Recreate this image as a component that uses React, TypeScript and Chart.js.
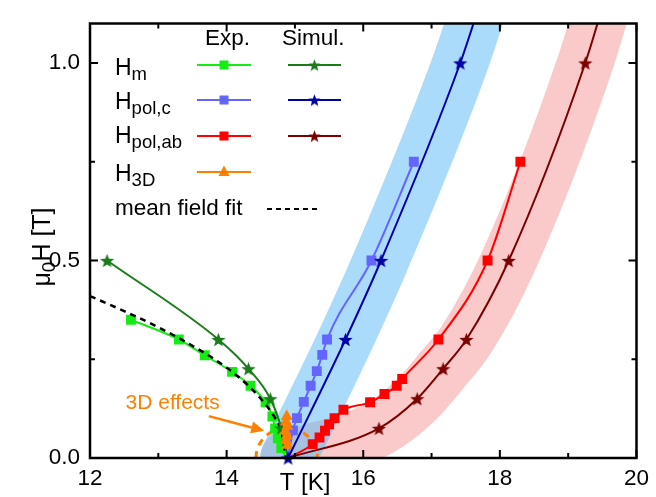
import React, { useEffect, useRef } from 'react';
import { Chart, registerables } from 'chart.js';

Chart.register(...registerables);

const FONT = '"Liberation Sans", Arial, Helvetica, sans-serif';

// ---- axes ----
const X_MIN = 12;
const X_MAX = 20;
const Y_MIN = 0;
const Y_MAX = 1.1;
const X_MAJOR = [12, 14, 16, 18, 20];
const X_LABELS = ['12', '14', '16', '18', '20'];
const X_MINOR = [13, 15, 17, 19];
const Y_MAJOR = [0, 0.5, 1.0];
const Y_LABELS = ['0.0', '0.5', '1.0'];
const Y_MINOR = [0.25, 0.75];

// ---- H_m ----
const HM_EXP_T = [12.6, 13.3, 13.68, 14.08, 14.35, 14.57, 14.67, 14.71, 14.75, 14.8, 14.87];
const HM_EXP_H = [0.35, 0.3, 0.26, 0.218, 0.183, 0.141, 0.105, 0.075, 0.05, 0.025, 0];
const HM_SIM_T = [12.25, 13.88, 14.32, 14.64, 14.8, 14.9];
const HM_SIM_H = [0.5, 0.3, 0.226, 0.15, 0.076, 0];
// mean field fit
const MF_T = [12.0, 12.5, 13.0, 13.5, 14.0, 14.3, 14.5, 14.7, 14.8, 14.87];
const MF_H = [0.41, 0.372, 0.331, 0.284, 0.229, 0.186, 0.15, 0.104, 0.068, 0];
// ---- H_pol,c ----
const PC_EXP_T = [14.9, 14.97, 15.03, 15.13, 15.23, 15.32, 15.4, 15.47, 16.12, 16.74];
const PC_EXP_H = [0, 0.07, 0.101, 0.142, 0.183, 0.22, 0.261, 0.3, 0.5, 0.75];
const PC_SIM_T = [14.9, 15.74, 16.26, 17.42, 17.8];
const PC_SIM_H = [0, 0.3, 0.5, 1.0, 1.2];
// ---- H_pol,ab ----
const PAB_EXP_T = [14.9, 15.26, 15.36, 15.44, 15.5, 15.58, 15.71, 16.1, 16.31, 16.49, 16.57, 17.1, 17.82, 18.3];
const PAB_EXP_H = [0, 0.035, 0.052, 0.069, 0.085, 0.101, 0.122, 0.141, 0.162, 0.183, 0.2, 0.3, 0.5, 0.75];
const PAB_SIM_T = [14.9, 16.23, 16.79, 17.17, 17.51, 18.13, 19.25, 19.6];
const PAB_SIM_H = [0, 0.075, 0.15, 0.226, 0.3, 0.5, 1.0, 1.2];
// ---- H_3D ----
const H3D_T = [14.88, 14.87, 14.89, 14.86, 14.88, 14.87, 14.89];
const H3D_H = [0.105, 0.092, 0.08, 0.068, 0.056, 0.044, 0.032];

// ---- annotation anchors (data units) ----
const TEXT_3D = { t: 12.52, h: 0.125 };
const ARROW_FROM = { t: 13.74, h: 0.106 };
const ARROW_TO = { t: 14.55, h: 0.069 };
const ELLIPSE_3D = { t: 14.88, h: 0, rt: 0.45, rh: 0.076 };

// ---- colours ----
const C_HM_EXP = '#14ec14';
const C_HM_SIM = '#1a7d1a';
const C_PC_EXP = '#6464ff';
const C_PC_SIM = '#0000a6';
const C_PAB_EXP = '#ff0000';
const C_PAB_SIM = '#7d0000';
const C_3D = '#ff8000';
const C_BAND_PC = 'rgba(100,190,245,0.55)';
const C_BAND_PAB = 'rgba(240,90,90,0.33)';

const zip = (t: number[], h: number[]) => t.map((v, i) => ({ x: v, y: h[i] }));
const radii = (n: number, r: number, hidden: number[]) =>
  Array.from({ length: n }, (_, i) => (hidden.includes(i) ? 0 : r));

function makeStar(color: string, size: number) {
  const c = document.createElement('canvas');
  c.width = size;
  c.height = size;
  const g = c.getContext('2d')!;
  const cx = size / 2;
  const cy = size / 2 + size * 0.05;
  const R = size / 2;
  const r = R * 0.42;
  g.beginPath();
  for (let i = 0; i < 10; i++) {
    const a = -Math.PI / 2 + (i * Math.PI) / 5;
    const rad = i % 2 === 0 ? R : r;
    g.lineTo(cx + rad * Math.cos(a), cy + rad * Math.sin(a));
  }
  g.closePath();
  g.fillStyle = color;
  g.fill();
  return c;
}

function subText(ctx: CanvasRenderingContext2D, x: number, y: number, main: string, sub: string, ms: number, ss: number, dy: number, tail = '') {
  ctx.font = `${ms}px ${FONT}`;
  ctx.fillText(main, x, y);
  let w = ctx.measureText(main).width;
  ctx.font = `${ss}px ${FONT}`;
  ctx.fillText(sub, x + w, y + dy);
  w += ctx.measureText(sub).width;
  if (tail) {
    ctx.font = `${ms}px ${FONT}`;
    ctx.fillText(tail, x + w, y);
  }
}

export default function App() {
  const ref = useRef<HTMLCanvasElement>(null);

  useEffect(() => {
    const canvas = ref.current!;
    const starHmS = makeStar(C_HM_SIM, 15);
    const starPcS = makeStar(C_PC_SIM, 15);
    const starPabS = makeStar(C_PAB_SIM, 15);
    const lgStar = {
      hm: makeStar(C_HM_SIM, 13),
      pc: makeStar(C_PC_SIM, 13),
      pab: makeStar(C_PAB_SIM, 13),
    };

    const lineBase = {
      showLine: true,
      borderWidth: 2,
      cubicInterpolationMode: 'monotone' as const,
      clip: { left: 10, top: 0, right: 0, bottom: 10 },
    };

    const datasets: any[] = [
      {
        ...lineBase,
        label: 'band pol,ab',
        data: zip(PAB_SIM_T, PAB_SIM_H),
        borderColor: C_BAND_PAB,
        borderWidth: 56,
        borderCapStyle: 'round',
        borderJoinStyle: 'round',
        pointRadius: 0,
        clip: 0,
        order: 100,
      },
      {
        ...lineBase,
        label: 'band pol,c',
        data: zip(PC_SIM_T, PC_SIM_H),
        borderColor: C_BAND_PC,
        borderWidth: 56,
        borderCapStyle: 'round',
        borderJoinStyle: 'round',
        pointRadius: 0,
        clip: 0,
        order: 99,
      },
      {
        ...lineBase,
        label: 'H_pol,ab exp',
        data: zip(PAB_EXP_T, PAB_EXP_H),
        borderColor: C_PAB_EXP,
        backgroundColor: C_PAB_EXP,
        pointStyle: 'rect',
        pointRadius: radii(PAB_EXP_T.length, 7, [0]),
        pointBorderWidth: 0,
        order: 60,
      },
      {
        ...lineBase,
        label: 'H_pol,ab sim',
        data: zip(PAB_SIM_T, PAB_SIM_H),
        borderColor: C_PAB_SIM,
        backgroundColor: C_PAB_SIM,
        pointStyle: starPabS,
        pointRadius: radii(PAB_SIM_T.length, 7, [0, PAB_SIM_T.length - 1]),
        order: 59,
      },
      {
        ...lineBase,
        label: 'H_pol,c exp',
        data: zip(PC_EXP_T, PC_EXP_H),
        borderColor: C_PC_EXP,
        backgroundColor: C_PC_EXP,
        pointStyle: 'rect',
        pointRadius: radii(PC_EXP_T.length, 7, [0]),
        pointBorderWidth: 0,
        order: 58,
      },
      {
        ...lineBase,
        label: 'H_m exp',
        data: zip(HM_EXP_T, HM_EXP_H),
        borderColor: C_HM_EXP,
        backgroundColor: C_HM_EXP,
        pointStyle: 'rect',
        pointRadius: radii(HM_EXP_T.length, 7, [HM_EXP_T.length - 1]),
        pointBorderWidth: 0,
        order: 57,
      },
      {
        ...lineBase,
        label: 'mean field fit',
        data: zip(MF_T, MF_H),
        borderColor: '#000',
        borderWidth: 2.5,
        borderDash: [6, 5],
        pointRadius: 0,
        order: 56,
      },
      {
        ...lineBase,
        label: 'H_m sim',
        data: zip(HM_SIM_T, HM_SIM_H),
        borderColor: C_HM_SIM,
        backgroundColor: C_HM_SIM,
        pointStyle: starHmS,
        pointRadius: radii(HM_SIM_T.length, 7, [HM_SIM_T.length - 1]),
        order: 55,
      },
      {
        ...lineBase,
        label: 'H_3D',
        data: zip(H3D_T, H3D_H),
        borderColor: C_3D,
        backgroundColor: C_3D,
        cubicInterpolationMode: 'default',
        tension: 0,
        pointStyle: 'triangle',
        pointRadius: 7,
        pointBorderWidth: 0,
        order: 54,
      },
      {
        ...lineBase,
        label: 'H_pol,c sim',
        data: zip(PC_SIM_T, PC_SIM_H),
        borderColor: C_PC_SIM,
        backgroundColor: C_PC_SIM,
        pointStyle: starPcS,
        pointRadius: radii(PC_SIM_T.length, 7, [PC_SIM_T.length - 1]),
        order: 50,
      },
    ];

    const decorPlugin = {
      id: 'decor',
      afterDatasetDraw(chart: any, args: any) {
        if (args.index !== 1) return;
        const { ctx, chartArea: a, scales } = chart;
        const x = scales.x;
        const y = scales.y;
        const cx = x.getPixelForValue(ELLIPSE_3D.t);
        const cy = y.getPixelForValue(ELLIPSE_3D.h);
        const rx = Math.abs(x.getPixelForValue(ELLIPSE_3D.t + ELLIPSE_3D.rt) - cx);
        const ry = Math.abs(y.getPixelForValue(ELLIPSE_3D.h + ELLIPSE_3D.rh) - cy);
        ctx.save();
        ctx.beginPath();
        ctx.rect(a.left, a.top, a.right - a.left, a.bottom - a.top);
        ctx.clip();
        ctx.strokeStyle = C_3D;
        ctx.lineWidth = 3;
        ctx.setLineDash([7, 6]);
        ctx.beginPath();
        ctx.ellipse(cx, cy, rx, ry, 0, Math.PI, 2 * Math.PI);
        ctx.stroke();
        ctx.restore();
      },
      afterDatasetsDraw(chart: any) {
        const { ctx, chartArea: a, scales } = chart;
        const x = scales.x;
        const y = scales.y;
        ctx.save();
        ctx.strokeStyle = '#000';
        ctx.lineWidth = 2;
        const vt = (v: number, len: number) => {
          const px = x.getPixelForValue(v);
          ctx.beginPath();
          ctx.moveTo(px, a.bottom);
          ctx.lineTo(px, a.bottom - len);
          ctx.moveTo(px, a.top);
          ctx.lineTo(px, a.top + len);
          ctx.stroke();
        };
        const ht = (v: number, len: number) => {
          const py = y.getPixelForValue(v);
          ctx.beginPath();
          ctx.moveTo(a.left, py);
          ctx.lineTo(a.left + len, py);
          ctx.moveTo(a.right, py);
          ctx.lineTo(a.right - len, py);
          ctx.stroke();
        };
        X_MAJOR.forEach((v) => vt(v, 8));
        X_MINOR.forEach((v) => vt(v, 5));
        Y_MAJOR.forEach((v) => ht(v, 8));
        Y_MINOR.forEach((v) => ht(v, 5));
        ctx.lineWidth = 2.5;
        ctx.strokeRect(a.left, a.top, a.right - a.left, a.bottom - a.top);
        ctx.restore();
      },
      afterDraw(chart: any) {
        const { ctx, scales } = chart;
        const x = scales.x;
        const y = scales.y;
        ctx.save();
        ctx.fillStyle = '#000';
        ctx.textBaseline = 'alphabetic';
        ctx.textAlign = 'left';

        // axis titles
        ctx.font = `24px ${FONT}`;
        ctx.textAlign = 'center';
        ctx.fillText('T [K]', 305, 490);
        ctx.textAlign = 'left';

        ctx.save();
        ctx.translate(50, 247);
        ctx.rotate(-Math.PI / 2);
        ctx.font = `25px ${FONT}`;
        const w1 = ctx.measureText('μ').width;
        const w3 = ctx.measureText('H [T]').width;
        ctx.font = `19px ${FONT}`;
        const w2 = ctx.measureText('0').width;
        const tot = w1 + w2 + w3;
        subText(ctx, -tot / 2, 0, 'μ', '0', 25, 19, 5, 'H [T]');
        ctx.restore();

        // legend
        ctx.font = `22.5px ${FONT}`;
        ctx.fillText('Exp.', 205, 45);
        ctx.fillText('Simul.', 282, 45);
        const rows = [
          { sub: 'm', base: 75, ly: 65, ce: C_HM_EXP, cs: C_HM_SIM, star: lgStar.hm },
          { sub: 'pol,c', base: 109, ly: 100, ce: C_PC_EXP, cs: C_PC_SIM, star: lgStar.pc },
          { sub: 'pol,ab', base: 143, ly: 136, ce: C_PAB_EXP, cs: C_PAB_SIM, star: lgStar.pab },
          { sub: '3D', base: 181, ly: 172, ce: C_3D, cs: '', star: null as any },
        ];
        rows.forEach((r) => {
          ctx.fillStyle = '#000';
          subText(ctx, 115, r.base, 'H', r.sub, 23, 18.5, 5);
          ctx.strokeStyle = r.ce;
          ctx.lineWidth = 2;
          ctx.beginPath();
          ctx.moveTo(197, r.ly);
          ctx.lineTo(251, r.ly);
          ctx.stroke();
          ctx.fillStyle = r.ce;
          if (r.sub === '3D') {
            ctx.beginPath();
            ctx.moveTo(224, r.ly - 6.5);
            ctx.lineTo(229.5, r.ly + 4);
            ctx.lineTo(218.5, r.ly + 4);
            ctx.closePath();
            ctx.fill();
          } else {
            ctx.fillRect(219.5, r.ly - 4.5, 9, 9);
            ctx.strokeStyle = r.cs;
            ctx.beginPath();
            ctx.moveTo(288, r.ly);
            ctx.lineTo(341, r.ly);
            ctx.stroke();
            ctx.drawImage(r.star, 314.5 - 6.5, r.ly - 6.5);
          }
        });
        ctx.fillStyle = '#000';
        ctx.font = `22.5px ${FONT}`;
        ctx.fillText('mean field fit', 115, 215);
        ctx.strokeStyle = '#000';
        ctx.lineWidth = 2;
        ctx.setLineDash([5, 4]);
        ctx.beginPath();
        ctx.moveTo(267, 209);
        ctx.lineTo(321, 209);
        ctx.stroke();
        ctx.setLineDash([]);

        // 3D effects annotation
        ctx.fillStyle = C_3D;
        ctx.font = `21px ${FONT}`;
        ctx.fillText('3D effects', x.getPixelForValue(TEXT_3D.t), y.getPixelForValue(TEXT_3D.h));
        const x0 = x.getPixelForValue(ARROW_FROM.t);
        const y0 = y.getPixelForValue(ARROW_FROM.h);
        const x1 = x.getPixelForValue(ARROW_TO.t);
        const y1 = y.getPixelForValue(ARROW_TO.h);
        const ang = Math.atan2(y1 - y0, x1 - x0);
        const hl = 13;
        const hw = 6;
        const bx = x1 - hl * Math.cos(ang);
        const by = y1 - hl * Math.sin(ang);
        ctx.strokeStyle = C_3D;
        ctx.lineWidth = 2.5;
        ctx.beginPath();
        ctx.moveTo(x0, y0);
        ctx.lineTo(bx, by);
        ctx.stroke();
        ctx.beginPath();
        ctx.moveTo(x1, y1);
        ctx.lineTo(bx + hw * Math.sin(ang), by - hw * Math.cos(ang));
        ctx.lineTo(bx - hw * Math.sin(ang), by + hw * Math.cos(ang));
        ctx.closePath();
        ctx.fill();
        ctx.restore();
      },
    };

    const chart = new Chart(canvas, {
      type: 'line',
      data: { datasets },
      options: {
        responsive: false,
        animation: false,
        devicePixelRatio: 1,
        events: [],
        layout: { padding: { top: 9, right: 15, left: 0, bottom: 0 } },
        plugins: { legend: { display: false }, tooltip: { enabled: false } },
        scales: {
          x: {
            type: 'linear',
            min: X_MIN,
            max: X_MAX,
            grid: { display: false, drawTicks: false },
            border: { display: false },
            afterBuildTicks: (s: any) => {
              s.ticks = X_MAJOR.map((v) => ({ value: v }));
            },
            afterFit: (s: any) => {
              s.height = 39;
            },
            ticks: {
              autoSkip: false,
              maxRotation: 0,
              padding: 7,
              color: '#000',
              font: { family: FONT, size: 22.5 },
              callback: (v: any) => X_LABELS[X_MAJOR.indexOf(Number(v))] ?? '',
            },
          },
          y: {
            type: 'linear',
            min: Y_MIN,
            max: Y_MAX,
            grid: { display: false, drawTicks: false },
            border: { display: false },
            afterBuildTicks: (s: any) => {
              s.ticks = Y_MAJOR.map((v) => ({ value: v }));
            },
            afterFit: (s: any) => {
              s.width = 90;
            },
            ticks: {
              autoSkip: false,
              padding: 10,
              color: '#000',
              font: { family: FONT, size: 22.5 },
              callback: (v: any) => Y_LABELS[Y_MAJOR.indexOf(Number(v))] ?? '',
            },
          },
        },
      },
      plugins: [decorPlugin],
    } as any);

    return () => chart.destroy();
  }, []);

  return (
    <div style={{ position: 'absolute', left: 0, top: 0, width: 656, height: 497, background: '#fff' }}>
      <canvas ref={ref} width={656} height={497} style={{ display: 'block', width: 656, height: 497 }} />
    </div>
  );
}
